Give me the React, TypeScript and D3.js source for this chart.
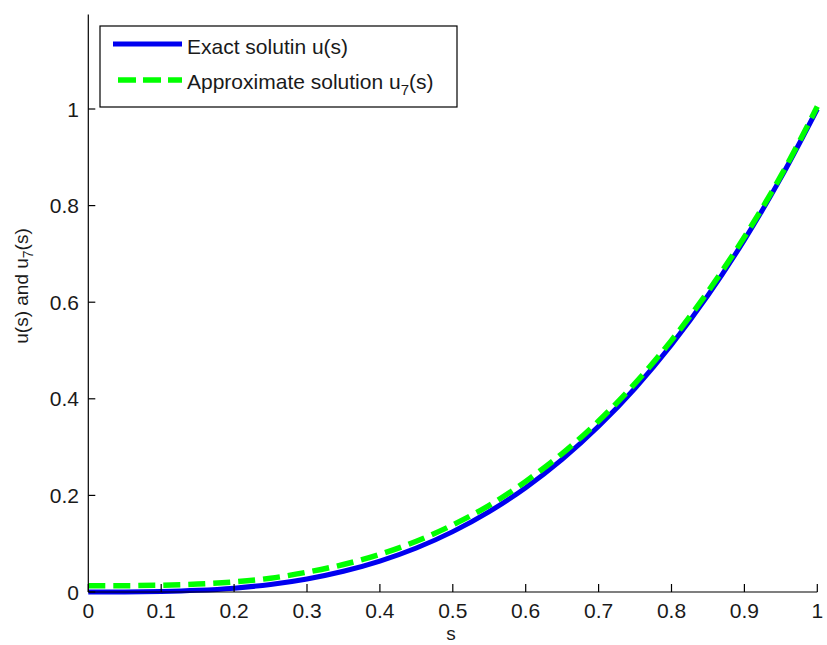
import React from "react";
import * as d3 from "d3";

const sValues = [0, 0.05, 0.1, 0.15, 0.2, 0.25, 0.3, 0.35, 0.4, 0.45, 0.5, 0.55, 0.6, 0.65, 0.7, 0.75, 0.8, 0.85, 0.9, 0.95, 1];
const exactValues = [0, 0.0001, 0.001, 0.0034, 0.008, 0.0156, 0.027, 0.0429, 0.064, 0.0911, 0.125, 0.1664, 0.216, 0.2746, 0.343, 0.4219, 0.512, 0.6141, 0.729, 0.8574, 1];
const approxValues = [0.013, 0.0131, 0.014, 0.0164, 0.021, 0.0286, 0.041, 0.0569, 0.078, 0.1051, 0.139, 0.1794, 0.229, 0.2866, 0.354, 0.4319, 0.521, 0.6221, 0.735, 0.8614, 1.005];
const xTicks = [0, 0.1, 0.2, 0.3, 0.4, 0.5, 0.6, 0.7, 0.8, 0.9, 1];
const yTicks = [0, 0.2, 0.4, 0.6, 0.8, 1];
const legendLabels = ["Exact solutin u(s)", "Approximate solution u"];

const W = 827;
const H = 645;
const FONT = "'Liberation Sans', Arial, Helvetica, sans-serif";
const BLUE = "#0000f0";
const GREEN = "#00ff00";

export default function App() {
  const x = d3.scaleLinear().domain([0, 1]).range([88.3, 817.3]);
  const y = d3.scaleLinear().domain([0, 1]).range([592, 109]);
  const yTop = y(1.2);

  const lineGen = d3
    .line<number>()
    .x((_, i) => x(sValues[i]))
    .y((d) => y(d))
    .curve(d3.curveMonotoneX);

  const exactPath = lineGen(exactValues) || "";
  const approxPath = lineGen(approxValues) || "";

  return (
    <svg
      width={W}
      height={H}
      style={{ position: "absolute", left: 0, top: 0, background: "#fff" }}
      fontFamily={FONT}
    >
      <rect x={0} y={0} width={W} height={H} fill="#fff" />

      {/* data lines */}
      <path d={exactPath} fill="none" stroke={BLUE} strokeWidth={5} strokeLinejoin="round" />
      <path
        d={approxPath}
        fill="none"
        stroke={GREEN}
        strokeWidth={5.5}
        strokeDasharray="17 8"
        strokeLinejoin="round"
      />

      {/* axes */}
      <line x1={x(0)} x2={x(0)} y1={yTop + 2} y2={y(0)} stroke="#000" strokeWidth={1.2} />
      <line x1={x(0)} x2={x(1)} y1={y(0)} y2={y(0)} stroke="#000" strokeWidth={1.2} />

      {xTicks.map((t) => (
        <g key={"x" + t}>
          <line x1={x(t)} x2={x(t)} y1={y(0)} y2={y(0) - 8} stroke="#000" strokeWidth={1.2} />
          <text x={x(t)} y={617.5} textAnchor="middle" fontSize={21} fill="#1a1a1a">
            {String(t)}
          </text>
        </g>
      ))}
      {yTicks.map((t) => (
        <g key={"y" + t}>
          <line x1={x(0)} x2={x(0) + 7} y1={y(t)} y2={y(t)} stroke="#000" strokeWidth={1.2} />
          <text x={79} y={y(t) + 7.5} textAnchor="end" fontSize={21} fill="#1a1a1a">
            {String(t)}
          </text>
        </g>
      ))}

      {/* axis labels */}
      <text x={451} y={640} textAnchor="middle" fontSize={19} fill="#1a1a1a">
        s
      </text>
      <text
        transform="translate(28,286) rotate(-90)"
        textAnchor="middle"
        fontSize={19}
        fill="#1a1a1a"
      >
        u(s) and u<tspan dy={5} fontSize={14}>7</tspan>
        <tspan dy={-5}>(s)</tspan>
      </text>

      {/* legend */}
      <rect x={100} y={26} width={357} height={81} fill="#fff" stroke="#000" strokeWidth={1.2} />
      <line x1={113} x2={182} y1={44} y2={44} stroke={BLUE} strokeWidth={5} />
      <text x={187} y={54} fontSize={21} fill="#1a1a1a">
        {legendLabels[0]}
      </text>
      <line x1={118} x2={182} y1={80} y2={80} stroke={GREEN} strokeWidth={5.5} strokeDasharray="18 7" />
      <text x={187} y={89} fontSize={21} fill="#1a1a1a">
        {legendLabels[1]}
        <tspan dy={6} fontSize={15}>7</tspan>
        <tspan dy={-6}>(s)</tspan>
      </text>
    </svg>
  );
}
